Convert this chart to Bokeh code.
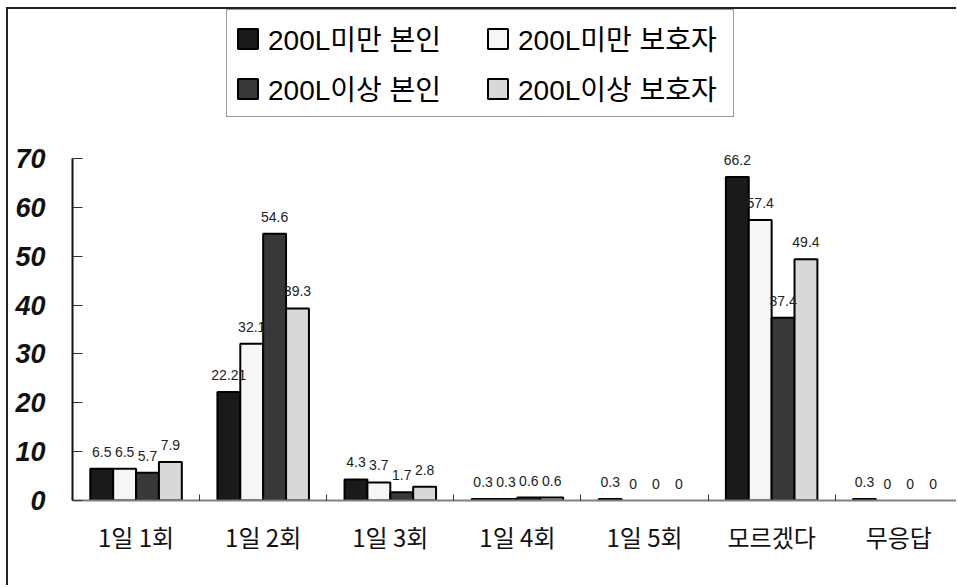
from bokeh.plotting import figure
from bokeh.models import ColumnDataSource, FixedTicker, Legend, LegendItem, Range1d
from bokeh.core.properties import value
from bokeh.embed import file_html
from bokeh.resources import INLINE

# ---- data ----
categories = ["1일 1회", "1일 2회", "1일 3회", "1일 4회", "1일 5회", "모르겠다", "무응답"]
series_names = ["200L미만 본인", "200L미만 보호자", "200L이상 본인", "200L이상 보호자"]
under_self = [6.5, 22.21, 4.3, 0.3, 0.3, 66.2, 0.3]
under_guardian = [6.5, 32.1, 3.7, 0.3, 0, 57.4, 0]
over_self = [5.7, 54.6, 1.7, 0.6, 0, 37.4, 0]
over_guardian = [7.9, 39.3, 2.8, 0.6, 0, 49.4, 0]
y_ticks = [0, 10, 20, 30, 40, 50, 60, 70]

series = [under_self, under_guardian, over_self, over_guardian]
colors = ["#1a1a1a", "#f6f6f6", "#383838", "#d8d8d8"]

W, H = 950, 578
n = len(categories)
p = figure(width=W, height=H, x_range=Range1d(0, 6.97), y_range=Range1d(0, 100.5),
           output_backend="svg", toolbar_location=None,
           min_border_left=64, min_border_right=0, min_border_top=0, min_border_bottom=87)
p.title.visible = False
p.outline_line_color = None
p.xgrid.visible = False
p.ygrid.visible = False
p.styles = {"border-top": "2px solid #222", "border-left": "2px solid #222",
            "margin-left": "6px", "margin-top": "7px"}

bar_w = 0.18
items = []
label_sources = []
for k, (name, vals, col) in enumerate(zip(series_names, series, colors)):
    xs = [i + 0.5 + (k - 1.5) * bar_w for i in range(n)]
    src = ColumnDataSource(dict(
        x=xs, top=vals,
        lbl=[f"{v:g}" for v in vals],
        la=[0.0 if v == 0 else 1.0 for v in vals],
    ))
    r = p.vbar(x="x", top="top", bottom=0, width=bar_w, source=src,
               fill_color=col, line_color="#000000", line_width=2, line_alpha="la")
    items.append(LegendItem(label=name, renderers=[r]))
    label_sources.append(src)

for src in label_sources:
    p.text(x="x", y="top", text="lbl", source=src, text_align="center",
           text_baseline="middle", y_offset=-17, text_font=value("Liberation Sans"),
           text_font_size="14px", text_color="#222222")

# x axis
p.xaxis.ticker = FixedTicker(ticks=[i + 0.5 for i in range(n)],
                             minor_ticks=[i for i in range(1, n)])
p.xaxis.major_label_overrides = {i + 0.5: c for i, c in enumerate(categories)}
p.xaxis.major_tick_in = 0
p.xaxis.major_tick_out = 0
p.xaxis.minor_tick_in = 6
p.xaxis.minor_tick_out = 0
p.xaxis.minor_tick_line_color = "#333333"
p.xaxis.axis_line_color = "#808080"
p.xaxis.axis_line_width = 2
p.xaxis.major_label_text_font = "Noto Sans CJK KR"
p.xaxis.major_label_text_font_size = "24px"
p.xaxis.major_label_text_color = "#111111"
p.xaxis.major_label_standoff = 18

# y axis
p.yaxis.ticker = FixedTicker(ticks=y_ticks)
p.yaxis.bounds = (0, 70)
p.yaxis.axis_line_color = "#111111"
p.yaxis.axis_line_width = 2
p.yaxis.major_tick_in = 10
p.yaxis.major_tick_out = 0
p.yaxis.major_tick_line_color = "#333333"
p.yaxis.minor_tick_line_color = None
p.yaxis.major_label_text_font = "Liberation Sans"
p.yaxis.major_label_text_font_style = "bold italic"
p.yaxis.major_label_text_font_size = "27px"
p.yaxis.major_label_text_color = "#111111"
p.yaxis.major_label_standoff = 27

legend = Legend(items=items, ncols=2, orientation="horizontal", location=(154, 383),
                label_text_font="Liberation Sans, Noto Sans CJK KR",
                label_text_font_size="28px", label_text_color="#000000",
                glyph_width=25, glyph_height=25, label_standoff=8, spacing=10,
                label_width=207, padding=8, margin=0,
                border_line_color="#333333", border_line_width=1,
                background_fill_color="#ffffff", background_fill_alpha=1)
p.add_layout(legend, "center")

open("out.html", "w").write(file_html(p, INLINE))
